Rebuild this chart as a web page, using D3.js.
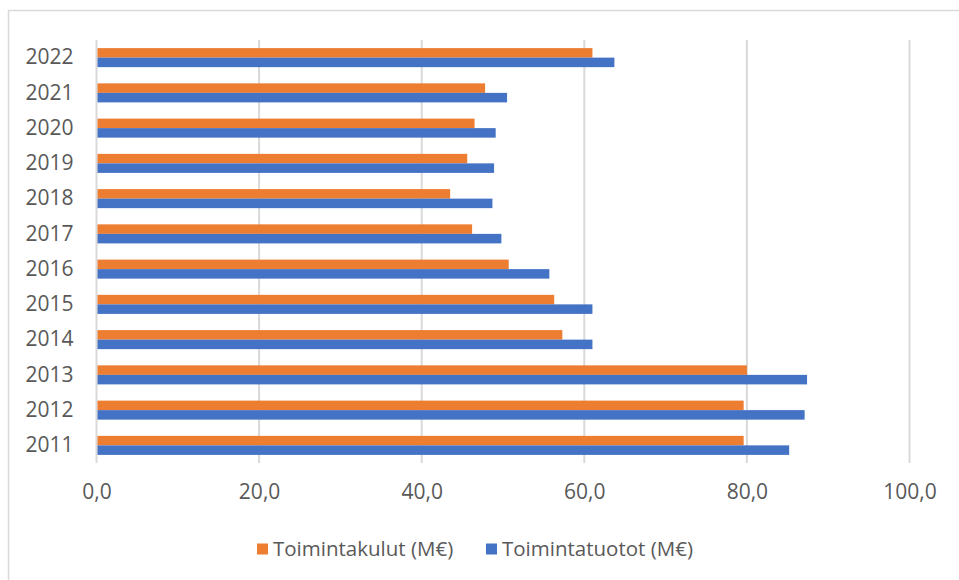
<!DOCTYPE html>
<html>
<head>
<meta charset="utf-8">
<script src="https://cdn.jsdelivr.net/npm/d3@7"></script>
<style>
  body { margin: 0; background: #fff; }
  text { font-family: "Open Sans", "Noto Sans", sans-serif; fill: #595959; }
</style>
</head>
<body>
<div id="chart"></div>
<script>
var years = ["2011", "2012", "2013", "2014", "2015", "2016", "2017", "2018", "2019", "2020", "2021", "2022"]
var kulut = [79.6, 79.6, 80.0, 57.3, 56.3, 50.7, 46.2, 43.5, 45.6, 46.5, 47.8, 61.0]
var tuotot = [85.2, 87.1, 87.4, 61.0, 61.0, 55.7, 49.8, 48.7, 48.9, 49.1, 50.5, 63.7]
var xTicks = [0, 20, 40, 60, 80, 100]
var seriesNames = ["Toimintakulut (M€)", "Toimintatuotot (M€)"]
var colors = ["#ED7D31", "#4472C4"]

var width = 959, height = 580
var margin = { top: 40, left: 96.5, right: 49.5, bottom: 117 }

var svg = d3.select("#chart").append("svg")
    .attr("width", width)
    .attr("height", height)

// chart frame (only top and left edges are visible)
svg.append("line").attr("x1", 8).attr("x2", width).attr("y1", 10.5).attr("y2", 10.5)
    .attr("stroke", "#d9d9d9").attr("stroke-width", 1.5)
svg.append("line").attr("x1", 8.5).attr("x2", 8.5).attr("y1", 10).attr("y2", height)
    .attr("stroke", "#d9d9d9").attr("stroke-width", 1.5)

var x = d3.scaleLinear().domain([0, 100]).range([margin.left, width - margin.right])
// 2022 at the top
var y = d3.scaleBand().domain(years.slice().reverse())
    .range([margin.top, height - margin.bottom])
    .paddingInner(0.46).paddingOuter(0.23)
var ySub = d3.scaleBand().domain([0, 1]).range([0, y.bandwidth()])

// gridlines
svg.append("g").selectAll("line")
  .data(xTicks)
  .enter()
  .append("line")
  .attr("x1", function (d) { return x(d) })
  .attr("x2", function (d) { return x(d) })
  .attr("y1", margin.top)
  .attr("y2", height - margin.bottom)
  .attr("stroke", "#d9d9d9")
  .attr("stroke-width", 2)

var series = [kulut, tuotot]
series.forEach(function (vals, si) {
  svg.append("g").selectAll("rect")
    .data(years.map(function (yr, i) { return { year: yr, value: vals[i] } }))
    .enter()
    .append("rect")
    .attr("x", x(0) + 1)
    .attr("y", function (d) { return y(d.year) + ySub(si) })
    .attr("width", function (d) { return x(d.value) - x(0) - 1 })
    .attr("height", ySub.bandwidth())
    .attr("fill", colors[si])
})

// year labels
var yAxis = d3.axisLeft(y).tickSize(0).tickPadding(23)
svg.append("g")
  .attr("transform", "translate(" + margin.left + ",0)")
  .call(yAxis)
  .call(function (g) { g.select(".domain").remove() })
  .selectAll("text")
  .attr("font-size", "21px")
  .style("font-family", '"Open Sans", "Noto Sans", sans-serif')
  .attr("fill", "#595959")

// value axis labels
var fmt = function (d) { return d3.format(".1f")(d).replace(".", ",") }
var xAxis = d3.axisBottom(x).tickValues(xTicks).tickFormat(fmt).tickSize(0).tickPadding(21)
svg.append("g")
  .attr("transform", "translate(0," + (height - margin.bottom) + ")")
  .call(xAxis)
  .call(function (g) { g.select(".domain").remove() })
  .selectAll("text")
  .attr("font-size", "21px")
  .style("font-family", '"Open Sans", "Noto Sans", sans-serif')
  .attr("fill", "#595959")

// legend
var legendX = [257, 486]
var legend = svg.append("g").selectAll("g")
  .data(seriesNames)
  .enter()
  .append("g")
  .attr("transform", function (d, i) { return "translate(" + legendX[i] + ",549)" })
legend.append("rect")
  .attr("x", 0).attr("y", -5.5)
  .attr("width", 11).attr("height", 11)
  .attr("fill", function (d, i) { return colors[i] })
legend.append("text")
  .attr("x", 16)
  .attr("dy", "0.35em")
  .attr("font-size", "20.5px")
  .text(function (d) { return d })
</script>
</body>
</html>
